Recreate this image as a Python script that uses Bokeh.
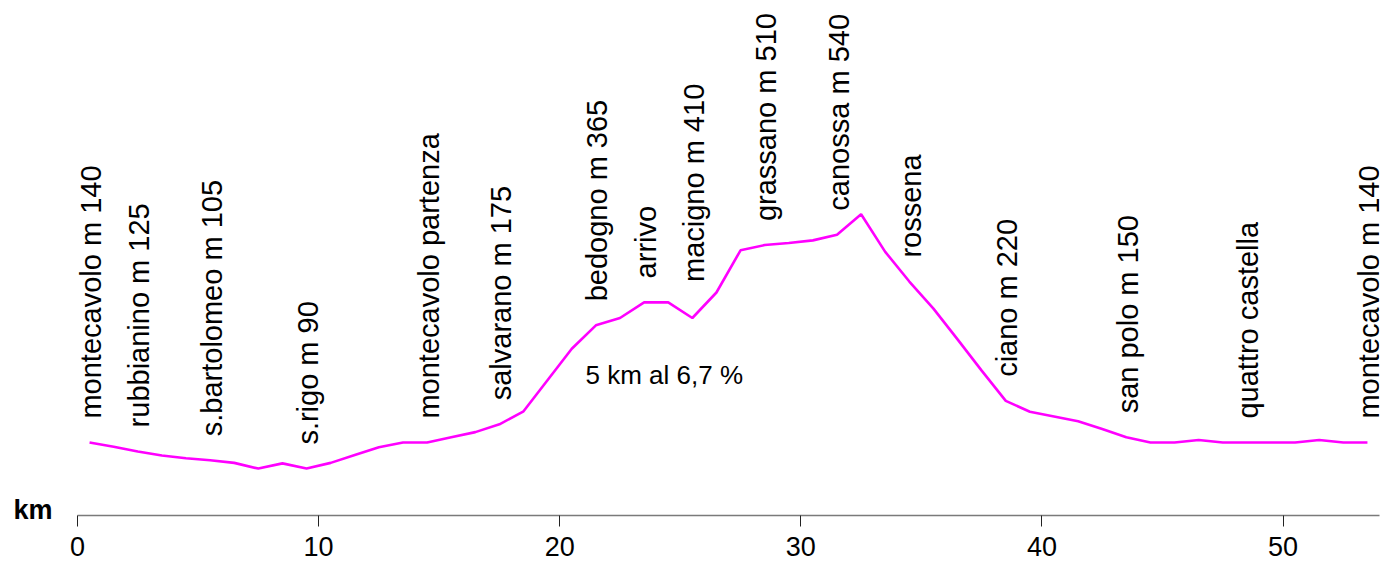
from bokeh.plotting import figure
from bokeh.models import ColumnDataSource, Range1d, FixedTicker, Label
from bokeh.core.properties import value
from bokeh.embed import file_html
from bokeh.resources import INLINE
import math

# ---- data (km, elevation in m) ----
km = [0.5, 1.5, 2.5, 3.5, 4.5, 5.5, 6.5, 7.5, 8.5, 9.5,
      10.5, 11.5, 12.5, 13.5, 14.5, 15.5, 16.5, 17.5, 18.5, 19.5,
      20.5, 21.5, 22.5, 23.5, 24.5, 25.5, 26.5, 27.5, 28.5, 29.5,
      30.5, 31.5, 32.5, 33.5, 34.5, 35.5, 36.5, 37.5, 38.5, 39.5,
      40.5, 41.5, 42.5, 43.5, 44.5, 45.5, 46.5, 47.5, 48.5, 49.5,
      50.5, 51.5, 52.5, 53.5]
elevation = [140, 132, 123, 115, 110, 106, 101, 90, 100, 90,
             101, 116, 131, 140, 140, 150, 160, 175, 200, 260,
             320, 365, 379, 409, 409, 379, 428, 509, 519, 523,
             528, 539, 578, 506, 449, 397, 338, 278, 220, 199,
             190, 181, 166, 150, 140, 140, 145, 140, 140, 140,
             140, 145, 140, 140]

place_names = ["montecavolo m 140", "rubbianino m 125", "s.bartolomeo m 105",
               "s.rigo m 90", "montecavolo partenza", "salvarano m 175",
               "bedogno m 365", "arrivo", "macigno m 410", "grassano m 510",
               "canossa m 540", "rossena", "ciano m 220", "san polo m 150",
               "quattro castella", "montecavolo m 140"]
place_km = [0.5, 2.5, 5.5, 9.5, 14.5, 17.5, 21.5, 23.5, 25.5, 28.5,
            31.5, 34.5, 38.5, 43.5, 48.5, 53.5]

x_ticks = [0, 10, 20, 30, 40, 50]
axis_unit = "km"
note_text = "5 km al 6,7 %"

# ---- figure ----
p = figure(width=1383, height=568, output_backend="svg", toolbar_location=None,
           x_range=Range1d(0, 54), y_range=Range1d(0, 973),
           min_border_left=77, min_border_right=4, min_border_top=8,
           min_border_bottom=53)
p.outline_line_color = None
p.xgrid.visible = False
p.ygrid.visible = False
p.background_fill_color = "white"

ax = p.xaxis[0]
ax.ticker = FixedTicker(ticks=x_ticks)
ax.axis_line_color = "#7a7a7a"
ax.axis_line_width = 1.6
ax.major_tick_line_color = "#222222"
ax.major_tick_line_width = 1
ax.major_tick_out = 11
ax.major_tick_in = 0
ax.minor_tick_out = 0
ax.minor_tick_in = 0
ax.major_label_standoff = 10
ax.major_label_text_font = "Liberation Sans"
ax.major_label_text_font_size = "27px"
ax.major_label_text_color = "black"

# left axis used only to carry the bold "km" unit text beside the x axis
ay = p.yaxis[0]
ay.ticker = FixedTicker(ticks=[11.5])
ay.major_label_overrides = {11.5: axis_unit}
ay.axis_line_color = None
ay.major_tick_line_color = None
ay.minor_tick_line_color = None
ay.major_tick_out = 0
ay.major_tick_in = 0
ay.major_label_standoff = 25
ay.major_label_text_font = "Liberation Sans"
ay.major_label_text_font_size = "27px"
ay.major_label_text_font_style = "bold"
ay.major_label_text_color = "black"

p.line(km, elevation, line_color="#ff00ff", line_width=2.6)

elev_at = dict(zip(km, elevation))
lab_y = [elev_at[k] for k in place_km]
lab_off = [-36 if n.startswith("macigno") else -24 for n in place_names]
src = ColumnDataSource(dict(x=place_km, y=lab_y, t=place_names, yo=lab_off))
p.text(x="x", y="y", text="t", source=src, angle=math.pi / 2,
       text_align="left", text_baseline="middle", x_offset=1.5, y_offset="yo",
       text_font=value("Liberation Sans"), text_font_size="29px",
       text_color="black")

p.add_layout(Label(x=21.07, y=269, text=note_text, text_align="left",
                   text_baseline="alphabetic", text_font="Liberation Sans",
                   text_font_size="26px", text_color="black"))

open("out.html", "w").write(file_html(p, INLINE))
